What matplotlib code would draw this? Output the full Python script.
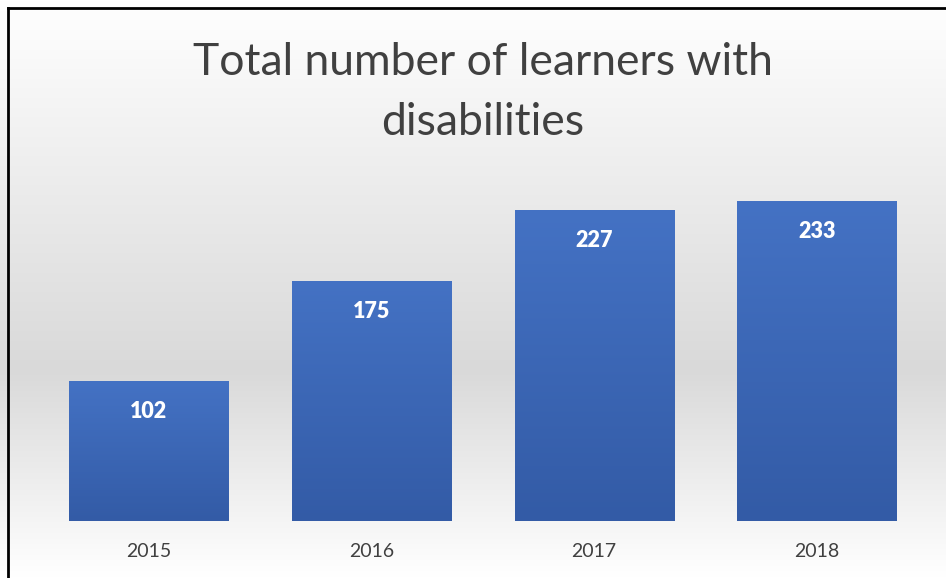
import numpy as np
import matplotlib.pyplot as plt
from matplotlib.colors import LinearSegmentedColormap
from matplotlib.lines import Line2D

years = ["2015", "2016", "2017", "2018"]
learners = [102, 175, 227, 233]
title = "Total number of learners with\ndisabilities"

plt.rcParams['font.family'] = ['Lato', 'DejaVu Sans']

fig = plt.figure(figsize=(9.46, 5.78), dpi=100)

# chart area background: white -> light gray -> white
bg = fig.add_axes([0, 0, 1, 1], zorder=-10)
bg_cmap = LinearSegmentedColormap.from_list(
    "bg", [(0, "#ffffff"), (0.64, "#d9d9d9"), (1, "#ffffff")])
bg.imshow(np.linspace(0, 1, 256).reshape(-1, 1), aspect="auto",
          cmap=bg_cmap, extent=[0, 1, 0, 1], origin="upper")
bg.set_axis_off()

# border (left and top visible)
fig.add_artist(Line2D([7.5 / 946, 7.5 / 946], [0, 1 - 7.5 / 578],
                      transform=fig.transFigure, color="black", lw=2))
fig.add_artist(Line2D([7.5 / 946, 1], [1 - 7.5 / 578, 1 - 7.5 / 578],
                      transform=fig.transFigure, color="black", lw=2))

ax = fig.add_axes([0.0391, 0.0986, 0.9424, 0.5934])
ax.patch.set_alpha(0)
x = np.arange(len(years))
bars = ax.bar(x, learners, width=0.715, color="none", edgecolor="none")

bar_cmap = LinearSegmentedColormap.from_list("bar", ["#4472c4", "#335ba6"])
for b in bars:
    im = ax.imshow(np.linspace(0, 1, 256).reshape(-1, 1), aspect="auto",
                   cmap=bar_cmap, origin="upper",
                   extent=[b.get_x(), b.get_x() + b.get_width(), 0, b.get_height()])
    im.set_clip_path(b)

for xi, v in zip(x, learners):
    ax.annotate(str(v), (xi, v), xytext=(0, -22), textcoords="offset points",
                ha="center", va="center", color="white", fontsize=15.5,
                fontweight="heavy")

ax.set_xlim(-0.5, len(years) - 0.5)
ax.set_ylim(0, 250)
ax.set_xticks(x)
ax.set_xticklabels(years, fontsize=14, color="#404040")
ax.tick_params(length=0, pad=16)
ax.set_yticks([])
for s in ax.spines.values():
    s.set_visible(False)

fig.text(0.51, 0.928, title, ha="center", va="top", fontsize=32,
         color="#404040", linespacing=1.58)

fig.savefig("out.png", dpi=100)
